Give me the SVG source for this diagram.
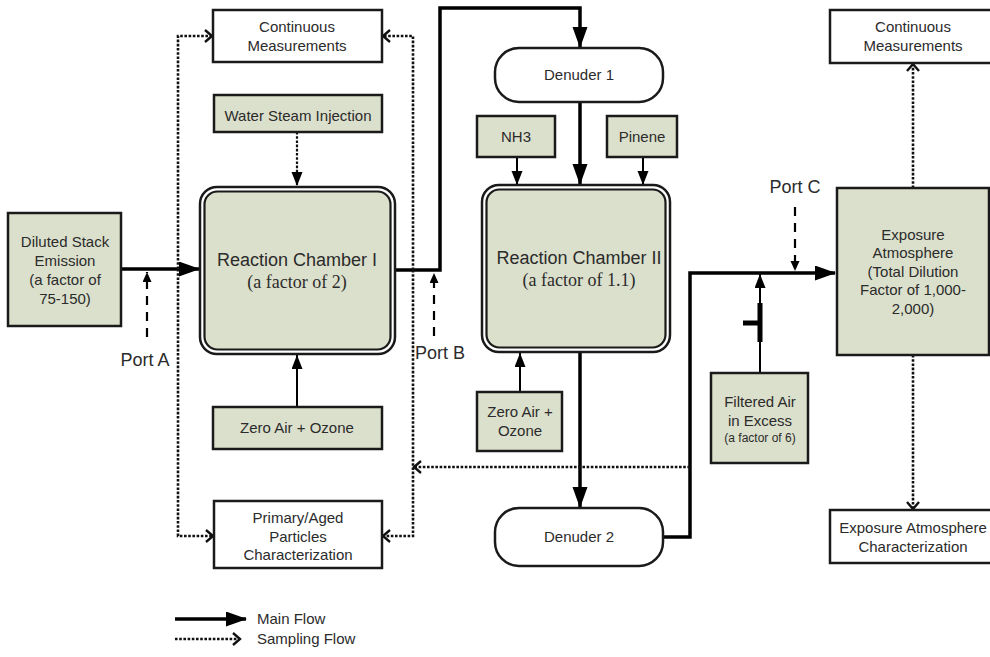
<svg xmlns="http://www.w3.org/2000/svg" width="990" height="657" viewBox="0 0 990 657">
<style>
.t{font-family:"Liberation Sans",Arial,sans-serif;font-size:15px;fill:#2b2b2b;text-anchor:middle}
.big{font-size:18px}
.sm{font-size:12px}
.serif{font-family:"Liberation Serif","Times New Roman",serif;font-size:18px;fill:#2b2b2b;text-anchor:middle}
.port{font-family:"Liberation Sans",Arial,sans-serif;font-size:18px;fill:#2b2b2b;text-anchor:middle}
.g{fill:#dbe0cc;stroke:#1a1a1a;stroke-width:2.5}
.w{fill:#fff;stroke:#1a1a1a;stroke-width:2.5}
.main{fill:none;stroke:#000;stroke-width:3.5;marker-end:url(#big)}
.thin{fill:none;stroke:#000;stroke-width:2;marker-end:url(#small)}
.samp{fill:none;stroke:#111;stroke-width:2.6;stroke-dasharray:2.6,1.6;marker-end:url(#open)}
.port-l{fill:none;stroke:#000;stroke-width:2.2;stroke-dasharray:9,7;marker-end:url(#tiny)}
</style>
<defs>
<marker id="big" markerUnits="userSpaceOnUse" markerWidth="22" markerHeight="16" refX="20" refY="7.5" orient="auto"><path d="M0,0 L21,7.5 L0,15 z" fill="#000"/></marker>
<marker id="small" markerUnits="userSpaceOnUse" markerWidth="16" markerHeight="12" refX="14" refY="5.5" orient="auto"><path d="M0,0 L14,5.5 L0,11 z" fill="#000"/></marker>
<marker id="tiny" markerUnits="userSpaceOnUse" markerWidth="12" markerHeight="10" refX="10" refY="4.5" orient="auto"><path d="M0,0 L10,4.5 L0,9 z" fill="#000"/></marker>
<marker id="open" markerUnits="userSpaceOnUse" markerWidth="12" markerHeight="14" refX="9" refY="7" orient="auto"><path d="M2,1 L9,7 L2,13" fill="none" stroke="#111" stroke-width="2.4"/></marker>
</defs>

<g id="connectors">
<path class="main" d="M121,269 H199"/>
<path class="main" d="M395,270 H440 V8 H580 V47"/>
<path class="main" d="M580,102 V184"/>
<path class="main" d="M580,352 V507"/>
<path class="main" d="M663,537 H690 V273 H835"/>
<path class="thin" d="M297,407 V355"/>
<path class="thin" d="M517,157 V185"/>
<path class="thin" d="M643,157 V185"/>
<path class="thin" d="M520,392 V353"/>
<path class="thin" d="M760,373 V274"/>
<path d="M297,132 V186" fill="none" stroke="#111" stroke-width="2.2" stroke-dasharray="2.6,1.6" marker-end="url(#small)"/>
<path d="M760,303 V342" stroke="#000" stroke-width="5" fill="none"/>
<path d="M743,323 H760" stroke="#000" stroke-width="5" fill="none"/>
<path class="port-l" d="M147,337 V272"/>
<path class="port-l" d="M434,336 V273"/>
<path class="port-l" d="M795,207 V271"/>
<path class="samp" d="M178,269 V36 H212"/>
<path class="samp" d="M178,269 V536 H213"/>
<path class="samp" d="M413,270 V36 H383"/>
<path class="samp" d="M413,270 V536 H383"/>
<path class="samp" d="M690,467 H414"/>
<path class="samp" d="M913,188 V64"/>
<path class="samp" d="M913,355 V509"/>
</g>

<g id="diluted"><rect class="g" x="8" y="213" width="113" height="113"/>
<text class="t" x="65" y="247">Diluted Stack</text><text class="t" x="65" y="266">Emission</text><text class="t" x="65" y="285">(a factor of</text><text class="t" x="65" y="304">75-150)</text></g>

<g id="cm1"><rect class="w" x="213" y="10" width="169" height="52"/>
<text class="t" x="297" y="32">Continuous</text><text class="t" x="297" y="51">Measurements</text></g>

<g id="water"><rect class="g" x="214" y="95" width="168" height="37"/>
<text class="t" x="298" y="121">Water Steam Injection</text></g>

<g id="chamber1"><rect x="200" y="187" width="195" height="167" rx="17" fill="#fff" stroke="#1a1a1a" stroke-width="2.5"/>
<rect x="204.5" y="191.5" width="186" height="158" rx="13" fill="#dbe0cc" stroke="#1a1a1a" stroke-width="2.2"/>
<text class="t big" x="297" y="266">Reaction Chamber I</text><text class="serif" x="297" y="288">(a factor of 2)</text></g>

<g id="zero1"><rect class="g" x="213" y="407" width="169" height="42"/>
<text class="t" x="297" y="433">Zero Air + Ozone</text></g>

<g id="primary"><rect class="w" x="214" y="501" width="168" height="67"/>
<text class="t" x="298" y="523">Primary/Aged</text><text class="t" x="298" y="542">Particles</text><text class="t" x="298" y="560">Characterization</text></g>

<g id="denuder1"><rect class="w" x="495" y="48" width="168" height="54" rx="24"/>
<text class="t" x="579" y="80">Denuder 1</text></g>

<g id="nh3"><rect class="g" x="477" y="116" width="78" height="41"/>
<text class="t" x="516" y="142">NH3</text></g>

<g id="pinene"><rect class="g" x="607" y="116" width="70" height="41"/>
<text class="t" x="642" y="142">Pinene</text></g>

<g id="chamber2"><rect x="482" y="185" width="188" height="167" rx="17" fill="#fff" stroke="#1a1a1a" stroke-width="2.5"/>
<rect x="486.5" y="189.5" width="179" height="158" rx="13" fill="#dbe0cc" stroke="#1a1a1a" stroke-width="2.2"/>
<text class="t big" x="579" y="264">Reaction Chamber II</text><text class="serif" x="579" y="286">(a factor of 1.1)</text></g>

<g id="zero2"><rect class="g" x="477" y="392" width="85" height="59"/>
<text class="t" x="520" y="417">Zero Air +</text><text class="t" x="520" y="436">Ozone</text></g>

<g id="denuder2"><rect class="w" x="495" y="508" width="168" height="58" rx="24"/>
<text class="t" x="579" y="542">Denuder 2</text></g>

<g id="filtered"><rect class="g" x="711" y="373" width="97" height="90"/>
<text class="t" x="760" y="407">Filtered Air</text><text class="t" x="760" y="426">in Excess</text><text class="t sm" x="760" y="442">(a factor of 6)</text></g>

<g id="cm2"><rect class="w" x="830" y="10" width="166" height="53"/>
<text class="t" x="913" y="32">Continuous</text><text class="t" x="913" y="51">Measurements</text></g>

<g id="exposure"><rect class="g" x="837" y="188" width="152" height="167"/>
<text class="t" x="913" y="240">Exposure</text><text class="t" x="913" y="258">Atmosphere</text><text class="t" x="913" y="277">(Total Dilution</text><text class="t" x="913" y="295">Factor of 1,000-</text><text class="t" x="913" y="314">2,000)</text></g>

<g id="expchar"><rect class="w" x="830" y="510" width="166" height="53"/>
<text class="t" x="913" y="533">Exposure Atmosphere</text><text class="t" x="913" y="552">Characterization</text></g>

<g id="ports">
<text class="port" x="145" y="366">Port A</text>
<text class="port" x="440" y="359">Port B</text>
<text class="port" x="795" y="193">Port C</text>
</g>

<g id="legend">
<path class="main" d="M175,619 H246"/>
<text class="t" x="257" y="624" style="text-anchor:start">Main Flow</text>
<path class="samp" d="M175,639 H240"/>
<text class="t" x="257" y="644" style="text-anchor:start">Sampling Flow</text>
</g>
</svg>
